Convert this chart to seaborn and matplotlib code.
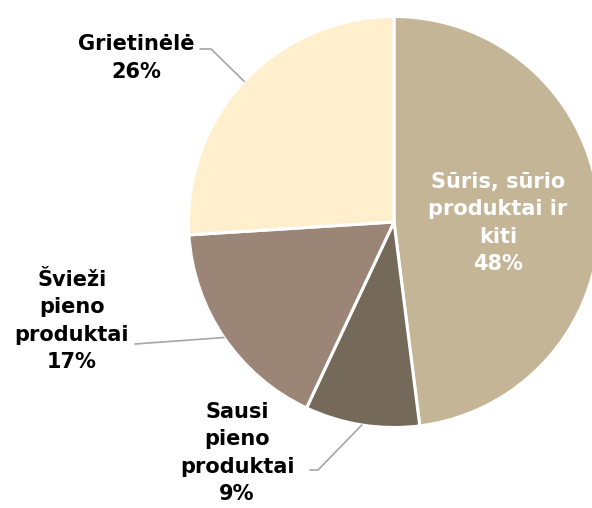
import numpy as np
import matplotlib
matplotlib.use("Agg")
import matplotlib.pyplot as plt
import seaborn as sns

# data
labels = ["Sūris, sūrio\nproduktai ir\nkiti", "Sausi\npieno\nproduktai",
          "Švieži\npieno\nproduktai", "Grietinėlė"]
shares = [48, 9, 17, 26]
colors = ["#C4B596", "#756959", "#9B8576", "#FFEFCC"]
explode = [0.015, 0, 0, 0.015]

sns.set_style("white")
plt.rcParams["font.family"] = ["DejaVu Sans"]

fig = plt.figure(figsize=(5.92, 5.08), dpi=100)
ax = fig.add_axes([0, 0, 1, 1])

cx, cy, r = 394, 286, 205.5
wedges, _ = ax.pie(shares, colors=colors, startangle=90, counterclock=False,
                   center=(cx, cy), radius=r, explode=explode,
                   wedgeprops=dict(edgecolor="white", linewidth=2.2),
                   frame=True)
ax.set_xlim(0, 592)
ax.set_ylim(0, 508)
ax.set_aspect("equal")
ax.axis("off")

fs = 15
ls = 1.45
# inside label
ax.text(498, 508 - 223, f"{labels[0]}\n{shares[0]}%", ha="center", va="center",
        color="white", fontsize=fs, fontweight="bold", linespacing=ls)

# outside labels: (text position, elbow, end)
outside = {
    1: ((237, 508 - 453), (318, 508 - 470), (310, 508 - 470)),
    2: ((72, 508 - 321), None, (135, 508 - 344)),
    3: ((136, 508 - 58), (211, 508 - 49), (200, 508 - 49)),
}
for i, (tpos, elbow, end) in outside.items():
    w = wedges[i]
    ang = np.deg2rad((w.theta1 + w.theta2) / 2)
    px, py = w.center[0] + r * np.cos(ang), w.center[1] + r * np.sin(ang)
    pts = [(px, py)] + ([elbow] if elbow else []) + [end]
    xs, ys = zip(*pts)
    ax.plot(xs, ys, color="#A6A6A6", lw=1.2)
    ax.text(tpos[0], tpos[1], f"{labels[i]}\n{shares[i]}%", ha="center",
            va="center", color="black", fontsize=fs, fontweight="bold",
            linespacing=ls)

fig.savefig("out.png", dpi=100)
